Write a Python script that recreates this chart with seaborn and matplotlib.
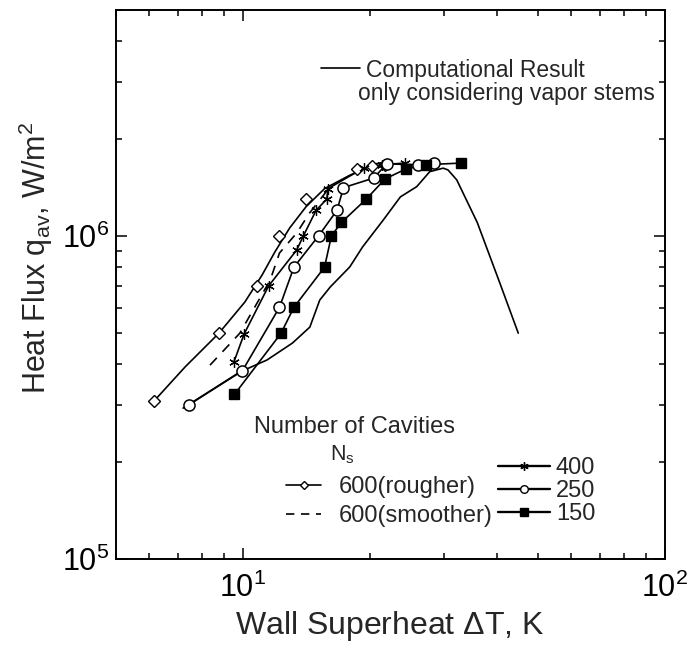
import matplotlib
matplotlib.use("Agg")
import matplotlib.pyplot as plt
import seaborn as sns
import pandas as pd
from matplotlib.lines import Line2D
from matplotlib.ticker import LogLocator, NullFormatter

sns.set_theme(style="ticks")
plt.rcParams["font.family"] = ["Liberation Sans", "DejaVu Sans"]
plt.rcParams["mathtext.fontset"] = "custom"
plt.rcParams["mathtext.rm"] = "Liberation Sans"
plt.rcParams["mathtext.it"] = "Liberation Sans:italic"
plt.rcParams["mathtext.bf"] = "Liberation Sans:bold"

# ---------------- data ----------------
rough_dT = [6.15, 8.77, 10.8, 12.2, 14.1, 18.6, 20.2, 21.7]
rough_q = [3.08e5, 5.01e5, 7.0e5, 1.0e6, 1.30e6, 1.61e6, 1.65e6, 1.66e6]
rough_fit_dT = [6.15, 7.29, 8.77, 10.1, 11.1, 11.9, 12.9, 14.1, 15.6, 17.9, 20.6, 22.5]
rough_fit_q = [3.08e5, 3.93e5, 5.0e5, 6.24e5, 7.57e5, 8.92e5, 1.058e6, 1.23e6,
               1.40e6, 1.54e6, 1.67e6, 1.71e6]

smooth_dT = [8.35, 9.83, 11.6, 12.2, 13.4, 14.4, 15.4, 16.1]
smooth_q = [3.98e5, 5.0e5, 7.3e5, 8.85e5, 1.02e6, 1.18e6, 1.32e6, 1.42e6]

n400_dT = [9.52, 10.06, 11.5, 13.4, 13.9, 14.9, 15.8, 15.9, 19.3, 21.3, 24.2]
n400_q = [4.08e5, 4.97e5, 7.0e5, 9.04e5, 1.0e6, 1.20e6, 1.30e6, 1.40e6, 1.62e6, 1.66e6, 1.68e6]

n250_dT = [7.44, 9.96, 12.2, 13.2, 15.1, 16.7, 17.3, 20.4, 21.9, 26.0, 28.3]
n250_q = [3.0e5, 3.82e5, 6.01e5, 8.0e5, 1.0e6, 1.20e6, 1.41e6, 1.51e6, 1.67e6, 1.66e6, 1.68e6]

n150_dT = [9.54, 12.3, 13.2, 15.6, 16.2, 17.1, 19.6, 21.7, 24.3, 27.1, 32.9]
n150_q = [3.23e5, 4.99e5, 6.01e5, 8.0e5, 1.0e6, 1.10e6, 1.30e6, 1.50e6, 1.61e6, 1.66e6, 1.68e6]

comp_dT = [7.21, 9.83, 11.4, 13.1, 14.4, 15.2, 16.1, 17.9, 19.2, 21.5, 23.6, 25.8,
           27.7, 29.8, 30.6, 32.1, 35.9, 40.6, 44.9]
comp_q = [2.93e5, 3.79e5, 4.13e5, 4.66e5, 5.22e5, 6.33e5, 6.95e5, 8.01e5, 9.24e5,
          1.12e6, 1.32e6, 1.42e6, 1.58e6, 1.62e6, 1.60e6, 1.49e6, 1.10e6, 7.15e5, 5.0e5]

x_limits = (5, 100)
y_limits = (1e5, 5e6)

# ---------------- figure ----------------
W, H = 689, 659
fig = plt.figure(figsize=(W / 100, H / 100), dpi=100)
L, R, T, B = 116, 665, 10, 559
ax = fig.add_axes([L / W, 1 - B / H, (R - L) / W, (B - T) / H])
ax.set_xscale("log")
ax.set_yscale("log")

lw = 1.2
line_kw = dict(ax=ax, estimator=None, sort=False, color="black", linewidth=lw, legend=False)

sns.lineplot(x=comp_dT, y=comp_q, **line_kw)
sns.lineplot(x=rough_fit_dT, y=rough_fit_q, **line_kw)
sns.lineplot(x=smooth_dT, y=smooth_q, linestyle=(0, (6, 5)), **line_kw)
sns.lineplot(x=n400_dT, y=n400_q, **line_kw)
sns.lineplot(x=n250_dT, y=n250_q, **line_kw)
sns.lineplot(x=n150_dT, y=n150_q, **line_kw)

mk_kw = dict(ax=ax, estimator=None, sort=False, color="black", linestyle="", legend=False)
sns.lineplot(x=rough_dT, y=rough_q, marker="D", markersize=6, markerfacecolor="white",
             markeredgecolor="black", markeredgewidth=1.0, **mk_kw)
sns.lineplot(x=n400_dT, y=n400_q, marker=(6, 2, 0), markersize=7.5,
             markeredgecolor="black", markeredgewidth=0.9, **mk_kw)
sns.lineplot(x=n250_dT, y=n250_q, marker="o", markersize=8, markerfacecolor="white",
             markeredgecolor="black", markeredgewidth=1.1, **mk_kw)
sns.lineplot(x=n150_dT, y=n150_q, marker="s", markersize=7, markerfacecolor="black",
             markeredgecolor="black", markeredgewidth=1.0, **mk_kw)

ax.set_xlim(*x_limits)
ax.set_ylim(*y_limits)

# ticks
ax.xaxis.set_major_locator(LogLocator(base=10, numticks=10))
ax.yaxis.set_major_locator(LogLocator(base=10, numticks=10))
ax.xaxis.set_minor_locator(LogLocator(base=10, subs=range(2, 10), numticks=20))
ax.yaxis.set_minor_locator(LogLocator(base=10, subs=range(2, 10), numticks=20))
ax.xaxis.set_minor_formatter(NullFormatter())
ax.yaxis.set_minor_formatter(NullFormatter())
ax.tick_params(which="both", direction="in", top=True, right=True, colors="black",
               width=1.1, labelsize=22)
ax.tick_params(which="major", length=8)
ax.tick_params(which="minor", length=4)
ax.tick_params(axis="x", which="major", pad=10)
ax.tick_params(axis="y", which="major", pad=5)
for s in ax.spines.values():
    s.set_linewidth(1.4)
    s.set_color("black")

def axc(px, py):
    return ((px - L) / (R - L), (B - py) / (B - T))

ax.set_xlabel(r"Wall Superheat $\Delta$T, K", fontsize=23)
ax.xaxis.set_label_coords(*axc(390, 609))
ax.set_ylabel(r"Heat Flux q$_{\mathrm{av}}$, W/m$^{2}$", fontsize=22)
ax.yaxis.set_label_coords(*axc(55, 258))

# ---------------- legends ----------------
fs = 16.5
leg1 = ax.legend(handles=[Line2D([], [], color="black", lw=lw)],
                 labels=["Computational Result"], loc="center left",
                 bbox_to_anchor=axc(321, 70), frameon=False, fontsize=fs,
                 handlelength=1.7, handletextpad=0.25, borderpad=0, borderaxespad=0)
ax.add_artist(leg1)
ax.text(*axc(358, 94), "only considering vapor stems", transform=ax.transAxes,
        fontsize=fs, va="center", ha="left")

ax.text(*axc(254, 427), "Number of Cavities", transform=ax.transAxes,
        fontsize=17, va="center", ha="left")
ax.text(*axc(330, 455), r"N$_{\mathrm{s}}$", transform=ax.transAxes,
        fontsize=15.5, va="center", ha="left")

leg2 = ax.legend(handles=[Line2D([], [], color="black", lw=lw, marker="D", ms=4.5,
                                 mfc="white", mec="black"),
                          Line2D([], [], color="black", lw=lw, ls=(0, (5, 4)))],
                 labels=["600(rougher)", "600(smoother)"], loc="center left",
                 bbox_to_anchor=axc(286, 501.5), frameon=False, fontsize=17,
                 handlelength=1.5, handletextpad=0.75, labelspacing=0.3,
                 borderpad=0, borderaxespad=0)
ax.add_artist(leg2)

leg3 = ax.legend(handles=[Line2D([], [], color="black", lw=lw * 1.4, marker=(6, 2, 0), ms=6, mec="black"),
                          Line2D([], [], color="black", lw=lw * 1.4, marker="o", ms=5.5,
                                 mfc="white", mec="black"),
                          Line2D([], [], color="black", lw=lw * 1.4, marker="s", ms=6,
                                 mfc="black", mec="black")],
                 labels=["400", "250", "150"], loc="center left",
                 bbox_to_anchor=axc(498, 491), frameon=False, fontsize=17,
                 handlelength=2.2, handletextpad=0.25, labelspacing=0.05,
                 borderpad=0, borderaxespad=0)

fig.savefig("out.png", dpi=100, facecolor="white")
